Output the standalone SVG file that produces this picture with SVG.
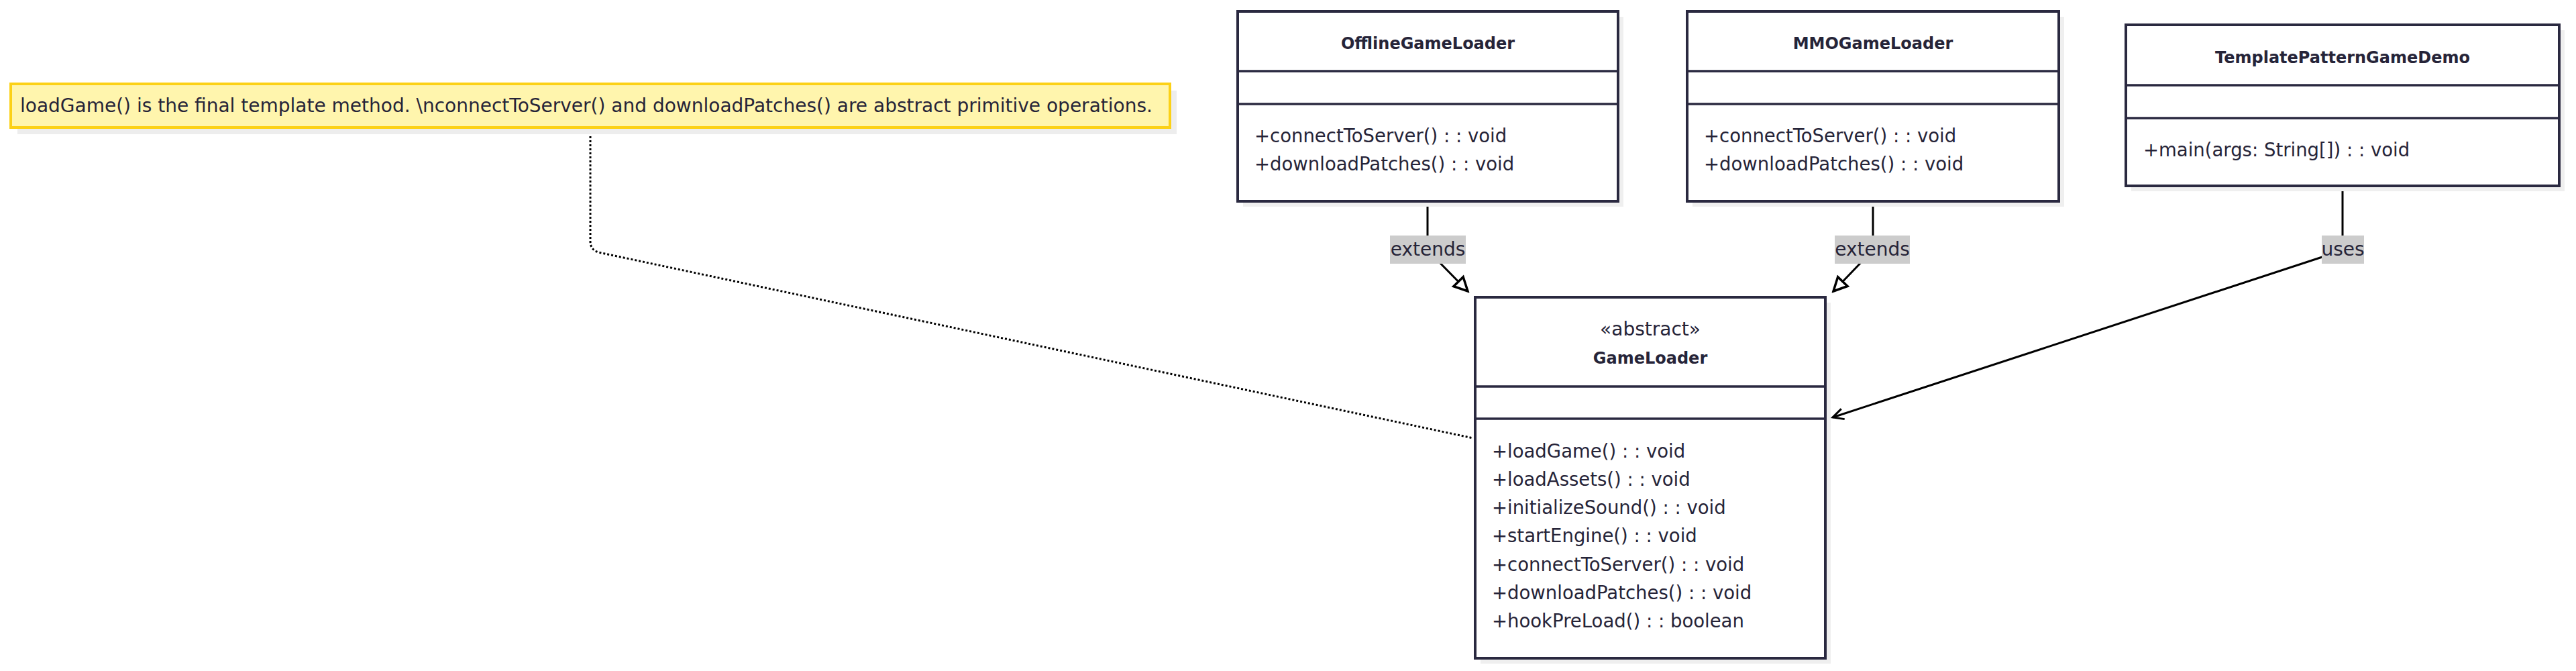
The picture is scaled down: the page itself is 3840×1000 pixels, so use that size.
<svg xmlns="http://www.w3.org/2000/svg" width="3840" height="1000" viewBox="0 0 3840 1000">
<style>
.box{fill:#ffffff;stroke:#2a2940;stroke-width:4}
.shadow{fill:#efefef}
.div{stroke:#2a2940;stroke-width:3.5}
.title{font-family:"DejaVu Sans",sans-serif;font-size:24px;font-weight:bold;fill:#262438;text-anchor:middle}
.stereo{font-family:"DejaVu Sans",sans-serif;font-size:28px;fill:#262438;text-anchor:middle}
.member{font-family:"DejaVu Sans",sans-serif;font-size:27.5px;fill:#262438}
.note{fill:#fff5ad;stroke:#fcd116;stroke-width:4}
.notetext{font-family:"DejaVu Sans",sans-serif;font-size:28px;fill:#262438}
.edge{fill:none;stroke:#000000;stroke-width:3}
.dotted{fill:none;stroke:#000000;stroke-width:3;stroke-dasharray:3 3}
.lblbg{fill:#cccccc}
.lbl{font-family:"DejaVu Sans",sans-serif;font-size:28px;fill:#262438;text-anchor:middle}
</style>
<defs>
<marker id="tri" viewBox="-24 -13 27 26" refX="0" refY="0" markerWidth="27" markerHeight="26" markerUnits="userSpaceOnUse" orient="auto">
<path d="M0,0 L-20,-10 L-20,10 Z" fill="#ffffff" stroke="#000000" stroke-width="3.5"/>
</marker>
<marker id="open" viewBox="-20 -12 23 24" refX="0" refY="0" markerWidth="23" markerHeight="24" markerUnits="userSpaceOnUse" orient="auto">
<path d="M-16,-8 L0,0 L-16,8" fill="none" stroke="#000000" stroke-width="3"/>
</marker>
</defs>
<rect width="3840" height="1000" fill="#ffffff"/>

<g id="connectors">
<path class="dotted" d="M880,191 L880,360 Q880,372 892,376 L2196,653"/>
<path class="edge" d="M2128,300 L2128,360 Q2128,372 2136,381 L2188,434" marker-end="url(#tri)"/>
<path class="edge" d="M2792,300 L2792,360 Q2792,372 2784,381 L2733,434" marker-end="url(#tri)"/>
<path class="edge" d="M3492,277 L3492,365 Q3492,373 3480,377 L2732,622" marker-end="url(#open)"/>
<g id="label-extends-1"><rect class="lblbg" x="2072" y="351" width="113" height="42"/><text class="lbl" x="2128.5" y="381">extends</text></g>
<g id="label-extends-2"><rect class="lblbg" x="2735" y="351" width="112" height="42"/><text class="lbl" x="2791" y="381">extends</text></g>
<g id="label-uses"><rect class="lblbg" x="3461" y="351" width="63" height="42"/><text class="lbl" x="3492.5" y="381">uses</text></g>
</g>

<g id="note">
<rect x="26" y="135" width="1728" height="65" fill="#ededed"/>
<rect class="note" x="16" y="125" width="1728" height="65"/>
<text class="notetext" x="30" y="167">loadGame() is the final template method. \nconnectToServer() and downloadPatches() are abstract primitive operations.</text>
</g>

<g id="OfflineGameLoader">
<rect class="shadow" x="1853" y="25" width="567" height="283"/>
<rect class="box" x="1845" y="17" width="567" height="283"/>
<line class="div" x1="1845" y1="106" x2="2412" y2="106"/>
<line class="div" x1="1845" y1="155" x2="2412" y2="155"/>
<text class="title" x="2128.5" y="73">OfflineGameLoader</text>
<text class="member" x="1870" y="212">+connectToServer() : : void</text>
<text class="member" x="1870" y="254">+downloadPatches() : : void</text>
</g>

<g id="MMOGameLoader">
<rect class="shadow" x="2523" y="25" width="554" height="283"/>
<rect class="box" x="2515" y="17" width="554" height="283"/>
<line class="div" x1="2515" y1="106" x2="3069" y2="106"/>
<line class="div" x1="2515" y1="155" x2="3069" y2="155"/>
<text class="title" x="2792" y="73">MMOGameLoader</text>
<text class="member" x="2540" y="212">+connectToServer() : : void</text>
<text class="member" x="2540" y="254">+downloadPatches() : : void</text>
</g>

<g id="TemplatePatternGameDemo">
<rect class="shadow" x="3177" y="45" width="646" height="240"/>
<rect class="box" x="3169" y="37" width="646" height="240"/>
<line class="div" x1="3169" y1="127" x2="3815" y2="127"/>
<line class="div" x1="3169" y1="176" x2="3815" y2="176"/>
<text class="title" x="3492" y="94">TemplatePatternGameDemo</text>
<text class="member" x="3195" y="233">+main(args: String[]) : : void</text>
</g>

<g id="GameLoader">
<rect class="shadow" x="2207" y="451" width="522" height="538"/>
<rect class="box" x="2199" y="443" width="522" height="538"/>
<line class="div" x1="2199" y1="576" x2="2721" y2="576"/>
<line class="div" x1="2199" y1="624" x2="2721" y2="624"/>
<text class="stereo" x="2460" y="500">«abstract»</text>
<text class="title" x="2460" y="542">GameLoader</text>
<text class="member" x="2224" y="682">+loadGame() : : void</text>
<text class="member" x="2224" y="724">+loadAssets() : : void</text>
<text class="member" x="2224" y="766">+initializeSound() : : void</text>
<text class="member" x="2224" y="808">+startEngine() : : void</text>
<text class="member" x="2224" y="851">+connectToServer() : : void</text>
<text class="member" x="2224" y="893">+downloadPatches() : : void</text>
<text class="member" x="2224" y="935">+hookPreLoad() : : boolean</text>
</g>
</svg>
